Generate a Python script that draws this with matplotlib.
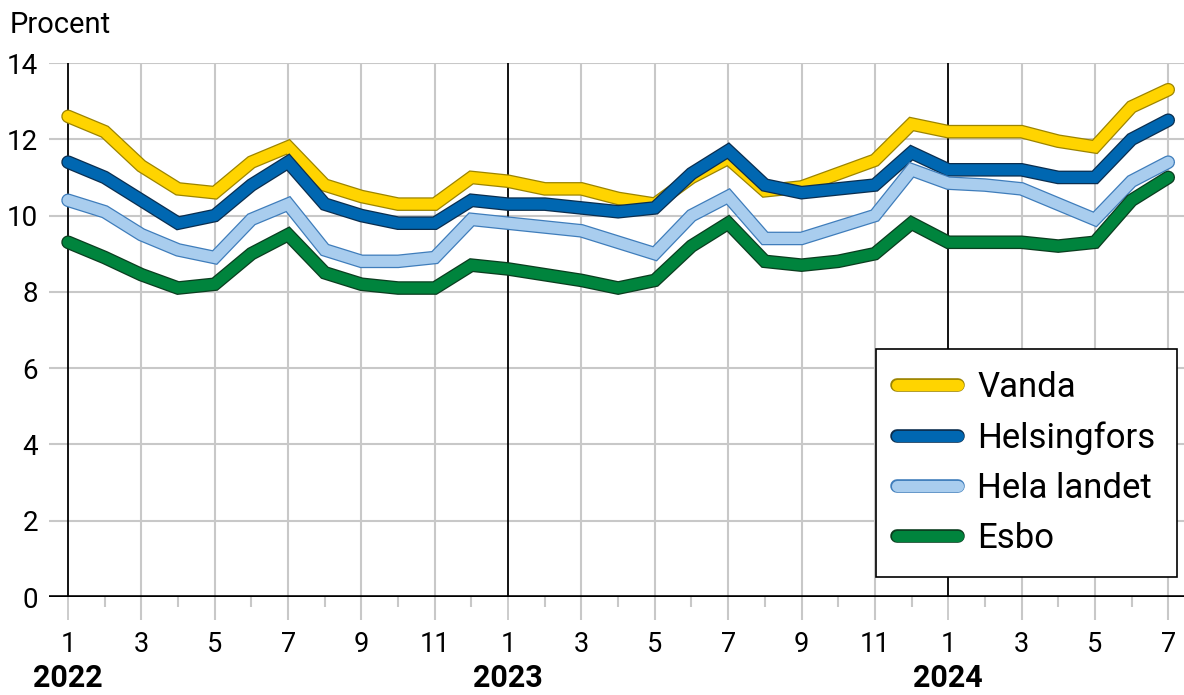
import numpy as np
import matplotlib.pyplot as plt
import matplotlib.patheffects as pe
from matplotlib.ticker import FixedLocator

plt.rcParams['font.family'] = ['Roboto', 'DejaVu Sans']

# monthly series, 1/2022 .. 7/2024
months = [1, 2, 3, 4, 5, 6, 7, 8, 9, 10, 11, 12] * 2 + [1, 2, 3, 4, 5, 6, 7]
years = [2022, 2023, 2024]

vanda = [12.6, 12.2, 11.3, 10.7, 10.6, 11.4, 11.8, 10.8, 10.5, 10.3, 10.3, 11.0,
         10.9, 10.7, 10.7, 10.45, 10.3, 11.0, 11.5, 10.65, 10.75, 11.1, 11.45, 12.4,
         12.2, 12.2, 12.2, 11.95, 11.8, 12.85, 13.3]
helsingfors = [11.4, 11.0, 10.4, 9.8, 10.0, 10.8, 11.4, 10.3, 10.0, 9.8, 9.8, 10.4,
               10.3, 10.3, 10.2, 10.1, 10.2, 11.1, 11.7, 10.8, 10.6, 10.7, 10.8, 11.65,
               11.2, 11.2, 11.2, 11.0, 11.0, 12.0, 12.5]
hela_landet = [10.4, 10.1, 9.5, 9.1, 8.9, 9.9, 10.3, 9.1, 8.8, 8.8, 8.9, 9.9,
               9.8, 9.7, 9.6, 9.3, 9.0, 10.0, 10.5, 9.4, 9.4, 9.7, 10.0, 11.2,
               10.85, 10.8, 10.7, 10.3, 9.9, 10.9, 11.4]
esbo = [9.3, 8.9, 8.45, 8.1, 8.2, 9.0, 9.5, 8.5, 8.2, 8.1, 8.1, 8.7,
        8.6, 8.45, 8.3, 8.1, 8.3, 9.2, 9.8, 8.8, 8.7, 8.8, 9.0, 9.8,
        9.3, 9.3, 9.3, 9.2, 9.3, 10.4, 11.0]

series = [
    ("Vanda", vanda, "#ffd400", "#9c8400"),
    ("Helsingfors", helsingfors, "#0067b1", "#0b2e4f"),
    ("Hela landet", hela_landet, "#a9cdee", "#3f7dbb"),
    ("Esbo", esbo, "#00843d", "#0b3d1f"),
]

x = np.arange(len(months))

fig = plt.figure(figsize=(11.84, 6.95), dpi=100)
ax = fig.add_axes([49 / 1184, 98 / 695, 1135 / 1184, 534 / 695])

for name, vals, col, edge in series:
    ax.plot(x, vals, color=col, lw=8, solid_capstyle='round',
            solid_joinstyle='miter', label=name, zorder=3,
            path_effects=[pe.Stroke(linewidth=9.8, foreground=edge), pe.Normal()])

ax.set_xlim(-0.52, 30.43)
ax.set_ylim(0, 14)

# grid
for yv in range(2, 15, 2):
    ax.axhline(yv, color='#c8c8c8', lw=1.5, zorder=1)
odd = [i for i in x if months[i] % 2 == 1]
for i in odd:
    c, w = ('black', 1.3) if months[i] == 1 else ('#c8c8c8', 1.5)
    ax.axvline(i, color=c, lw=w, zorder=1.5)
ax.axhline(0, color='black', lw=2.6, zorder=2)

for s in ax.spines.values():
    s.set_visible(False)

ax.set_yticks(range(0, 15, 2))
ax.tick_params(axis='y', length=0, pad=8, labelsize=20)
ax.xaxis.set_major_locator(FixedLocator(odd))
ax.set_xticklabels([str(months[i]) for i in odd])
ax.xaxis.set_minor_locator(FixedLocator([i for i in x if months[i] % 2 == 0]))
ax.tick_params(axis='x', which='major', length=16.5, width=1.5, color='#c8c8c8',
               pad=8, labelsize=19.5)
ax.tick_params(axis='x', which='minor', length=7.5, width=1.5, color='#c8c8c8')
for t, i in zip(ax.xaxis.get_major_ticks(), odd):
    if months[i] == 1:
        t.tick1line.set_color('black')
        t.tick1line.set_markeredgewidth(1.3)

for k, yr in enumerate(years):
    ax.text(12 * k, -0.152, str(yr), transform=ax.get_xaxis_transform(),
            ha='center', va='center', fontsize=22, fontweight='bold')

fig.text(10 / 1184, 1 - 33 / 695, "Procent", fontsize=21, va='baseline', ha='left')

leg = ax.legend(loc='lower right', bbox_to_anchor=(0.9938, 0.0375), borderaxespad=0,
                fontsize=25, handlelength=1.75, handletextpad=0.55, labelspacing=0.5,
                borderpad=0.62, fancybox=False, framealpha=1, edgecolor='black')
leg.get_frame().set_linewidth(1.2)
leg.set_zorder(5)

fig.savefig("out.png", dpi=100)
